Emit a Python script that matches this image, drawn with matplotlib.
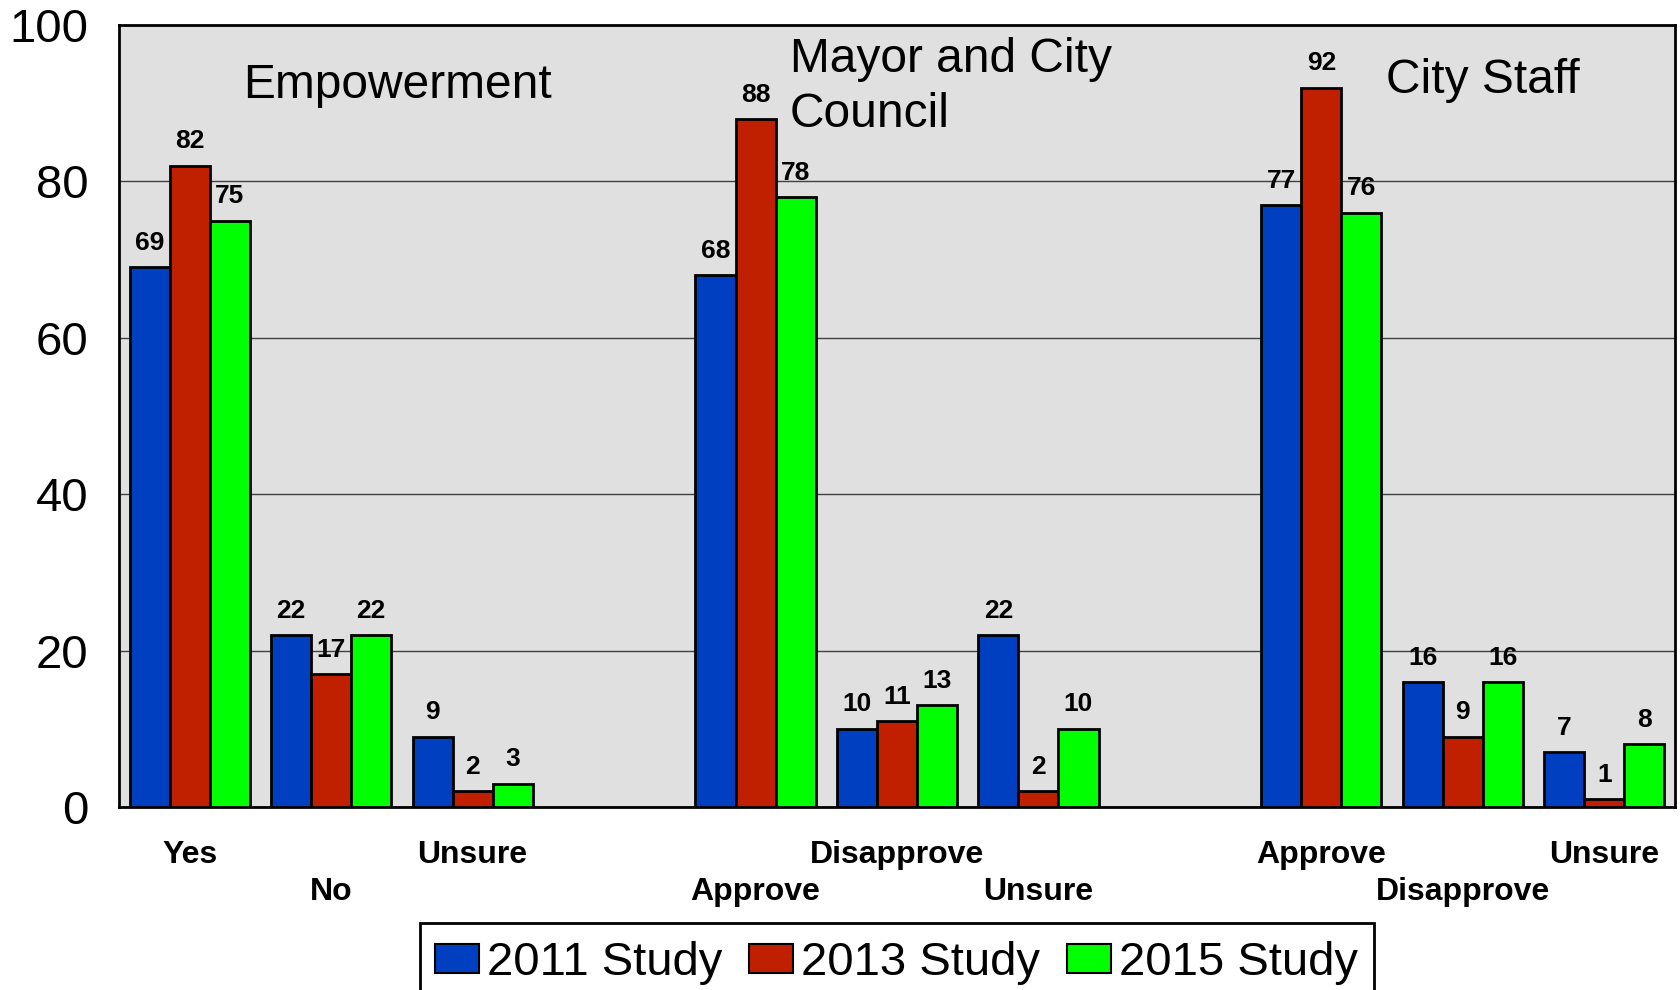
import matplotlib
matplotlib.use("Agg")
import matplotlib.pyplot as plt
import numpy as np
from matplotlib.patches import Patch, Rectangle

plt.rcParams['font.family'] = ['Liberation Sans', 'DejaVu Sans']

# ---- data ----
groups = ["Empowerment", "Mayor and City\nCouncil", "City Staff"]
categories = ["Yes", "No", "Unsure",
              "Approve", "Disapprove", "Unsure",
              "Approve", "Disapprove", "Unsure"]
series_names = ["2011 Study", "2013 Study", "2015 Study"]
s2011 = [69, 22, 9, 68, 10, 22, 77, 16, 7]
s2013 = [82, 17, 2, 88, 11, 2, 92, 9, 1]
s2015 = [75, 22, 3, 78, 13, 10, 76, 16, 8]
yticks = [0, 20, 40, 60, 80, 100]

colors = ["#0040C0", "#C02000", "#00FF00"]

# slot positions: three categories per group, one empty slot between groups
per_group = 3
slots = np.array([i + i // per_group for i in range(len(categories))], dtype=float)

W, H = 1680, 990
fig = plt.figure(figsize=(W/100, H/100), dpi=100)
ax = fig.add_axes([119/W, 1-807/H, (1675-119)/W, (807-25)/H])
ax.set_facecolor("#E0E0E0")

bw = 0.283
for k, (vals, c) in enumerate(zip([s2011, s2013, s2015], colors)):
    xs = slots + (k - 1) * bw
    ax.bar(xs, vals, width=bw, color=c, edgecolor="black", linewidth=2.0, zorder=3)
    for x, v in zip(xs, vals):
        ax.annotate(str(v), (x, v), xytext=(0, 17.5), textcoords="offset points",
                    ha="center", va="center", fontsize=19, fontweight="bold", zorder=4)

ax.set_xlim(-0.5, slots[-1] + 0.5)
ax.set_ylim(0, 100)
ax.set_yticks(yticks)
ax.set_yticklabels([str(t) for t in yticks], fontsize=34)
ax.tick_params(axis="y", length=0, pad=22)
ax.set_xticks([])
ax.yaxis.grid(True, color="#404040", linewidth=1.0, zorder=1)
for s in ax.spines.values():
    s.set_linewidth(2)
    s.set_color("black")

# staggered category labels
xt = ax.get_xaxis_transform()
for i, (x, lab) in enumerate(zip(slots, categories)):
    y = -0.0614 if i % 2 == 0 else -0.1087
    ax.text(x, y, lab, transform=xt, ha="center", va="center",
            fontsize=23, fontweight="bold", clip_on=False)

# group titles
title_pos = [(0.377, 92.2), (4.242, 92.1), (8.458, 92.9)]
for (gx, gy), g in zip(title_pos, groups):
    ax.text(gx, gy, g, ha="left", va="center", fontsize=34.5, linespacing=1.3, zorder=5)

# legend box (bottom edge runs off the figure as in the original)
frame = Rectangle((420/W, -0.05), (1374-420)/W, (1-923/H) + 0.05,
                  transform=fig.transFigure, facecolor="white", edgecolor="black",
                  linewidth=2, zorder=1)
fig.add_artist(frame)

handles = [Patch(facecolor=c, edgecolor="black", linewidth=1.5) for c in colors]
leg = fig.legend(handles, series_names, loc="center",
                 bbox_to_anchor=(896.5/W, 1-963/H), ncol=3, fontsize=34,
                 frameon=False, handlelength=0.93, handleheight=0.59,
                 handletextpad=0.17, columnspacing=0.57, borderpad=0.0)
leg.set_zorder(2)

fig.savefig("out.png", dpi=100)
